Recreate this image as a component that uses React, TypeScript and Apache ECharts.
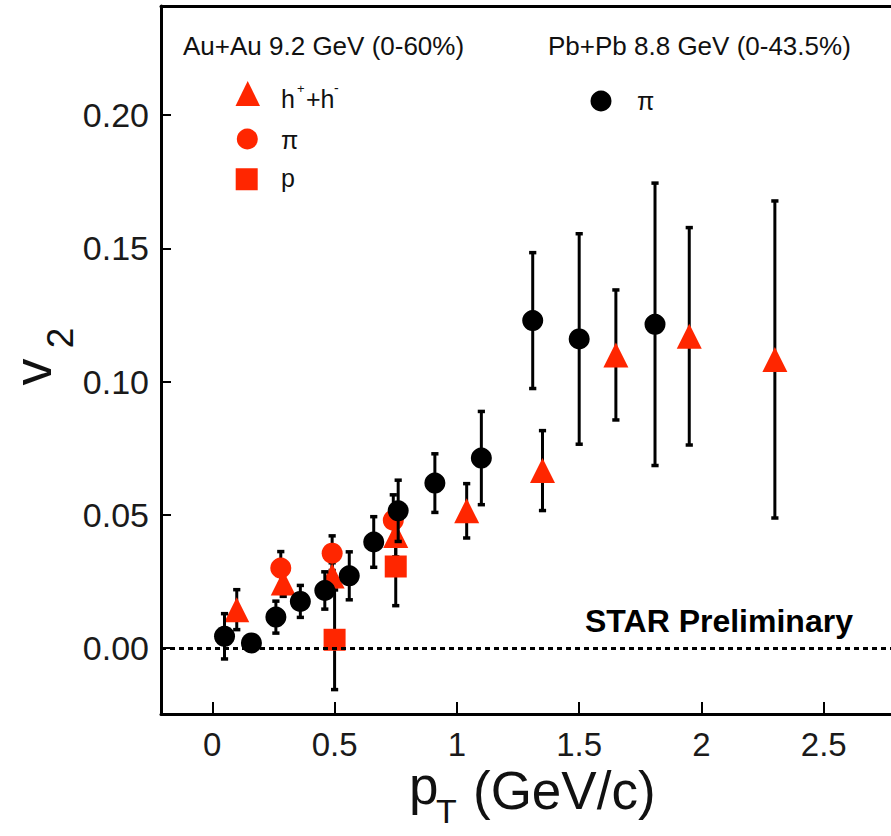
import React, { useEffect, useRef } from "react";
import * as echarts from "echarts";

// ---- data ----
const xTicks = [0, 0.5, 1, 1.5, 2, 2.5];
const yTicks = [0, 0.05, 0.1, 0.15, 0.2];

// Pb+Pb 8.8 GeV pions (black circles)
const pbPionX = [0.05, 0.16, 0.26, 0.36, 0.46, 0.56, 0.66, 0.76, 0.91, 1.1, 1.31, 1.5, 1.81];
const pbPionV2 = [0.0044, 0.0019, 0.0116, 0.0175, 0.0216, 0.0271, 0.0398, 0.0515, 0.0619, 0.0713, 0.1229, 0.116, 0.1215];
const pbPionErr = [0.0085, 0.003, 0.006, 0.006, 0.007, 0.009, 0.0095, 0.0115, 0.011, 0.0175, 0.0255, 0.0395, 0.053];

// Au+Au 9.2 GeV charged hadrons (red triangles)
const auHadX = [0.1, 0.29, 0.49, 0.75, 1.04, 1.35, 1.65, 1.95, 2.3];
const auHadV2 = [0.0144, 0.0244, 0.027, 0.0422, 0.0515, 0.0666, 0.11, 0.117, 0.1083];
const auHadErr = [0.0075, 0.005, 0.005, 0.008, 0.0102, 0.015, 0.0244, 0.0408, 0.0595];

// Au+Au 9.2 GeV pions (red circles)
const auPionX = [0.28, 0.49, 0.74];
const auPionV2 = [0.03, 0.0356, 0.048];
const auPionErr = [0.0062, 0.0065, 0.0095];

// Au+Au 9.2 GeV protons (red squares)
const auProtX = [0.5, 0.75];
const auProtV2 = [0.0031, 0.0306];
const auProtErr = [0.0187, 0.0147];

const RED = "#ff2600";
const FONT = "'Liberation Sans', Arial, Helvetica, sans-serif";
const X_MIN = -0.2097;
const X_MAX = 2.7748;

const zip = (xs: number[], ys: number[], es: number[]) => xs.map((x, i) => [x, ys[i], es[i]]);

const renderErr = (_params: any, api: any) => {
  const x = api.value(0);
  const y = api.value(1);
  const e = api.value(2);
  const top = api.coord([x, y + e]);
  const bot = api.coord([x, y - e]);
  const cw = 3.6;
  const st = { stroke: "#000", lineWidth: 3 };
  return {
    type: "group",
    children: [
      { type: "line", shape: { x1: top[0], y1: top[1], x2: bot[0], y2: bot[1] }, style: st },
      { type: "line", shape: { x1: top[0] - cw, y1: top[1], x2: top[0] + cw, y2: top[1] }, style: { stroke: "#000", lineWidth: 3.5 } },
      { type: "line", shape: { x1: bot[0] - cw, y1: bot[1], x2: bot[0] + cw, y2: bot[1] }, style: { stroke: "#000", lineWidth: 3.5 } },
    ],
  };
};

const txt = (text: string, x: number, y: number, fontSize: number, extra: any = {}, elExtra: any = {}) => ({
  type: "text",
  x,
  y,
  ...elExtra,
  style: {
    text,
    fontSize,
    fontFamily: FONT,
    fill: "#111",
    align: "left",
    textAlign: "left",
    verticalAlign: "middle",
    textVerticalAlign: "middle",
    ...extra,
  },
});

export default function App() {
  const ref = useRef<HTMLDivElement>(null);
  useEffect(() => {
    document.body.style.margin = "0";
    if (!ref.current) return;
    const chart = echarts.init(ref.current, null, { renderer: "svg" });

    const option: any = {
      animation: false,
      backgroundColor: "#fff",
      grid: {
        left: 161,
        top: 6,
        right: 0,
        bottom: 122,
        show: false,
      },
      xAxis: [
        {
          type: "value",
          min: X_MIN,
          max: X_MAX,
          splitLine: { show: false },
          axisLine: { show: true, onZero: false, lineStyle: { color: "#000", width: 3 } },
          axisTick: { show: true, inside: true, length: 12, customValues: xTicks, lineStyle: { color: "#000", width: 2 } },
          axisLabel: {
            customValues: xTicks,
            fontSize: 33,
            fontFamily: FONT,
            color: "#1a1a1a",
            margin: 14,
            formatter: (v: number) => String(v),
          },
        },
        {
          type: "value",
          position: "top",
          min: X_MIN,
          max: X_MAX,
          splitLine: { show: false },
          axisLine: { show: true, onZero: false, lineStyle: { color: "#000", width: 3 } },
          axisTick: { show: false },
          axisLabel: { show: false },
        },
      ],
      yAxis: {
        type: "value",
        min: -0.02476,
        max: 0.24097,
        splitLine: { show: false },
        axisLine: { show: true, onZero: false, lineStyle: { color: "#000", width: 3 } },
        axisTick: { show: true, inside: true, length: 10, customValues: yTicks, lineStyle: { color: "#000", width: 2 } },
        axisLabel: {
          customValues: yTicks,
          fontSize: 34,
          fontFamily: FONT,
          color: "#1a1a1a",
          margin: 12,
          formatter: (v: number) => v.toFixed(2),
        },
      },
      series: [
        {
          name: "h err",
          type: "custom",
          z: 2,
          renderItem: renderErr,
          data: zip(auHadX, auHadV2, auHadErr),
          markLine: {
            silent: true,
            symbol: ["none", "none"],
            label: { show: false },
            lineStyle: { color: "#000", type: [5, 4], width: 3 },
            data: [{ yAxis: 0 }],
          },
        },
        {
          name: "pi Au err",
          type: "custom",
          z: 2,
          renderItem: renderErr,
          data: zip(auPionX, auPionV2, auPionErr),
        },
        {
          name: "p err",
          type: "custom",
          z: 2,
          renderItem: renderErr,
          data: zip(auProtX, auProtV2, auProtErr),
        },
        {
          name: "h+h-",
          type: "scatter",
          z: 3,
          symbol: "triangle",
          symbolSize: [25, 25],
          itemStyle: { color: RED, opacity: 1 },
          data: auHadX.map((x, i) => [x, auHadV2[i]]),
        },
        {
          name: "pi Au",
          type: "scatter",
          z: 3,
          symbol: "circle",
          symbolSize: 21,
          itemStyle: { color: RED, opacity: 1 },
          data: auPionX.map((x, i) => [x, auPionV2[i]]),
        },
        {
          name: "p",
          type: "scatter",
          z: 3,
          symbol: "rect",
          symbolSize: 22,
          itemStyle: { color: RED, opacity: 1 },
          data: auProtX.map((x, i) => [x, auProtV2[i]]),
        },
        {
          name: "pi Pb err",
          type: "custom",
          z: 4,
          renderItem: renderErr,
          data: zip(pbPionX, pbPionV2, pbPionErr),
        },
        {
          name: "pi Pb",
          type: "scatter",
          z: 5,
          symbol: "circle",
          symbolSize: 21,
          itemStyle: { color: "#000", opacity: 1 },
          data: pbPionX.map((x, i) => [x, pbPionV2[i]]),
        },
      ],
      graphic: {
        elements: [
          txt("Au+Au 9.2 GeV (0-60%)", 183, 46, 26),
          txt("Pb+Pb 8.8 GeV (0-43.5%)", 548, 46, 26),
          // legend: Au+Au
          {
            type: "polygon",
            shape: { points: [[235.5, 106], [260, 106], [247.7, 81]] },
            style: { fill: RED },
          },
          txt("h", 281, 99, 25),
          txt("+", 297, 88, 13),
          txt("+h", 306, 99, 25),
          txt("-", 334, 88, 14),
          { type: "circle", shape: { cx: 247.3, cy: 139, r: 10.5 }, style: { fill: RED } },
          txt("π", 281, 140, 25),
          { type: "rect", shape: { x: 235.7, y: 168.3, width: 22, height: 22 }, style: { fill: RED } },
          txt("p", 281, 178, 25),
          // legend: Pb+Pb
          { type: "circle", shape: { cx: 601, cy: 101, r: 10.5 }, style: { fill: "#000" } },
          txt("π", 637, 101, 25),
          // STAR Preliminary
          txt("STAR Preliminary", 585, 621, 32, { fontWeight: "bold", fill: "#000" }),
          // x axis title
          txt("p", 409, 785, 53, { lineHeight: 46 }),
          txt("T", 436, 811, 34, { lineHeight: 30 }),
          txt("(GeV/c)", 473, 790, 53, { lineHeight: 46 }),
          // y axis title
          txt("v", 32, 372, 54, { align: "center", textAlign: "center" }, { rotation: Math.PI / 2 }),
          txt("2", 60, 338, 37, { align: "center", textAlign: "center" }, { rotation: Math.PI / 2 }),
        ],
      },
    };

    chart.setOption(option);
    return () => {
      chart.dispose();
    };
  }, []);

  return <div ref={ref} style={{ width: 891, height: 836 }} />;
}
